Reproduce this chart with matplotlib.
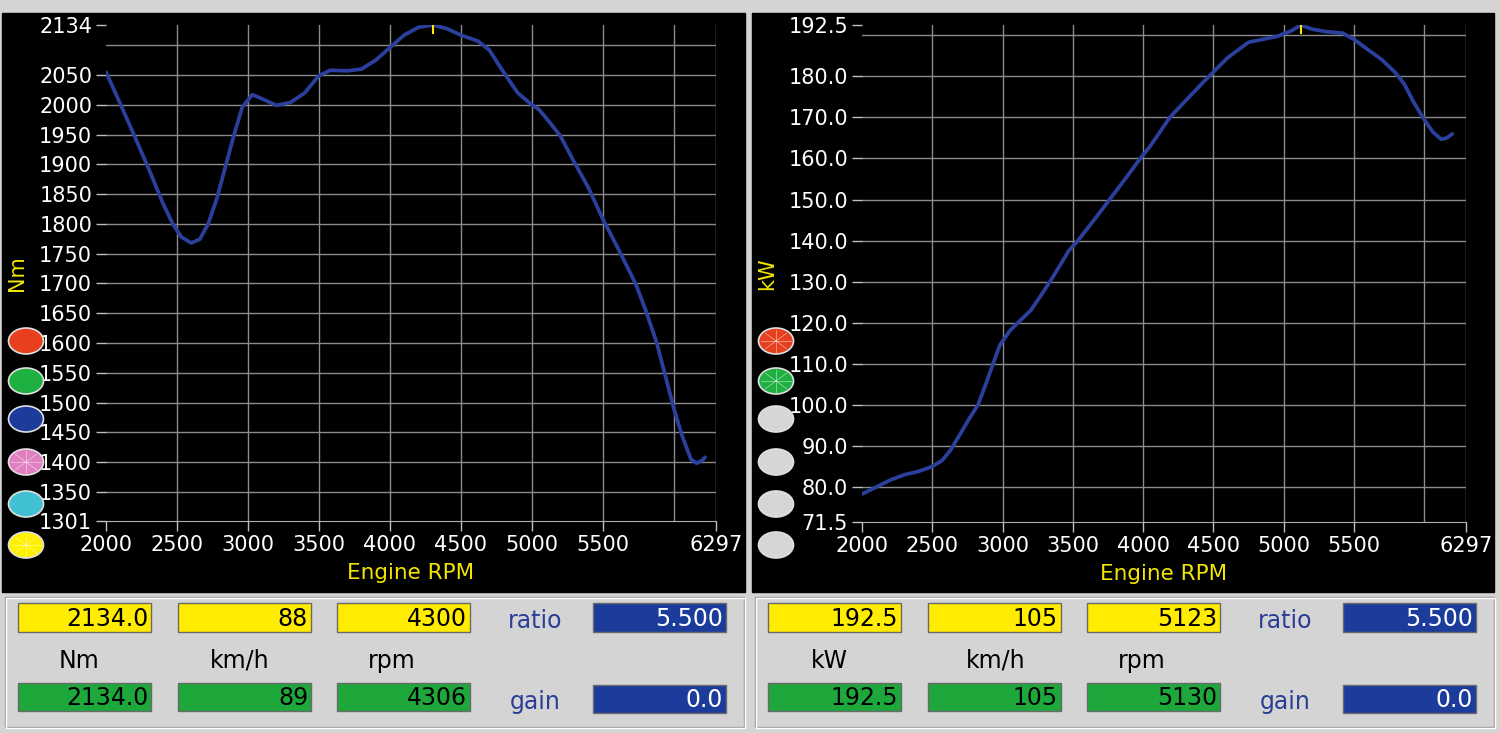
import matplotlib
matplotlib.use('Agg')

import matplotlib.pyplot as plt
from matplotlib.patches import Rectangle, Ellipse
import numpy as np

plt.rcParams['font.family'] = ['DejaVu Sans']

# torque curve (rpm, Nm)
torque_rpm = [2000, 2100, 2200, 2300, 2400, 2470, 2530, 2600, 2660, 2720, 2780,
              2840, 2900, 2960, 3030, 3100, 3200, 3300, 3400, 3500, 3580, 3700,
              3800, 3900, 4000, 4100, 4200, 4300, 4400, 4500, 4620, 4700, 4800,
              4900, 5000, 5050, 5100, 5200, 5300, 5400, 5500, 5600, 5730, 5800,
              5880, 5940, 6000, 6060, 6120, 6160, 6200, 6220]
torque_nm = [2055, 2002, 1948, 1893, 1835, 1800, 1778, 1768, 1774, 1800, 1842,
             1895, 1948, 1996, 2017, 2010, 1999, 2004, 2020, 2049, 2058, 2057,
             2060, 2075, 2096, 2117, 2130, 2134, 2128, 2117, 2107, 2092, 2055,
             2020, 2000, 1992, 1978, 1948, 1903, 1860, 1808, 1762, 1700, 1656,
             1600, 1545, 1490, 1443, 1405, 1398, 1403, 1408]

# power curve (rpm, kW)
power_rpm = [2000, 2100, 2200, 2300, 2400, 2500, 2570, 2630, 2700, 2760, 2825,
             2880, 2932, 2980, 3050, 3124, 3200, 3270, 3337, 3400, 3470, 3536,
             3650, 3750, 3850, 3980, 4050, 4190, 4300, 4440, 4600, 4750, 4850,
             4950, 5050, 5123, 5200, 5300, 5420, 5500, 5580, 5700, 5800, 5860,
             5920, 5990, 6060, 6120, 6160, 6200]
power_kw = [78.3, 80.0, 81.7, 83.0, 83.8, 85.0, 86.5, 89.0, 93.0, 96.5, 100.0,
            105.0, 110.0, 114.5, 118.0, 120.5, 123.0, 126.5, 130.0, 133.5, 137.5,
            140.0, 145.0, 149.5, 154.0, 160.0, 163.0, 170.0, 174.0, 179.0, 184.5,
            188.3, 189.0, 189.7, 191.0, 192.5, 191.5, 190.9, 190.5, 189.0, 187.0,
            184.0, 180.7, 178.0, 174.0, 170.0, 166.5, 164.7, 165.0, 166.0]

x_ticks = [2000, 2500, 3000, 3500, 4000, 4500, 5000, 5500, 6297]
torque_ticks = [1301, 1350, 1400, 1450, 1500, 1550, 1600, 1650, 1700, 1750,
                1800, 1850, 1900, 1950, 2000, 2050, 2134]
power_ticks = [71.5, 80, 90, 100, 110, 120, 130, 140, 150, 160, 170, 180, 192.5]

# readout panel values
torque_hold = ['2134.0', '88', '4300']
torque_cursor = ['2134.0', '89', '4306']
power_hold = ['192.5', '105', '5123']
power_cursor = ['192.5', '105', '5130']
ratio_value = '5.500'
gain_value = '0.0'

BG = '#d4d4d4'
LINE = '#2b3f9c'
GRID = '#8a8a8a'
YEL = '#ffec00'
GRN = '#1ea83c'
BLU = '#1c3c9c'
LABEL_YEL = '#f2e600'

W, H = 1500, 733
fig = plt.figure(figsize=(15, 7.33), dpi=100, facecolor=BG)

# background layer in pixel coordinates
bg = fig.add_axes([0, 0, 1, 1])
bg.set_xlim(0, W)
bg.set_ylim(H, 0)
bg.axis('off')
bg.add_patch(Rectangle((2, 13), 743, 579, color='black'))
bg.add_patch(Rectangle((752, 13), 742, 579, color='black'))


def pix_axes(l, t, r, b):
    return fig.add_axes([l / W, 1 - b / H, (r - l) / W, (b - t) / H])


def setup(ax, rpm, vals, yticks, ylabels, extra_grid, unit, peak_rpm):
    ax.set_facecolor('black')
    ax.set_xlim(x_ticks[0], x_ticks[-1])
    ax.set_ylim(yticks[0], yticks[-1])
    for x in x_ticks[1:] + [6000]:
        ax.axvline(x, color=GRID, lw=1, zorder=1)
    for y in yticks[1:-1] + [extra_grid]:
        ax.axhline(y, color=GRID, lw=1, zorder=1)
    ax.plot(rpm, vals, color=LINE, lw=2.7, zorder=3,
            solid_capstyle='round', solid_joinstyle='round')
    ax.axvline(peak_rpm, ymin=0.984, ymax=1.0, color=YEL, lw=1.5, zorder=4)
    for s in ['top', 'right', 'left']:
        ax.spines[s].set_visible(False)
    ax.spines['bottom'].set_color('#b0b0b0')
    ax.set_xticks(x_ticks)
    ax.set_xticklabels([str(x) for x in x_ticks])
    ax.set_yticks(yticks)
    ax.set_yticklabels(ylabels)
    ax.tick_params(colors='#c0c0c0', labelcolor='white', length=7, width=1,
                   labelsize=15, pad=3)
    ax.set_xlabel('Engine RPM', color=LABEL_YEL, fontsize=15.5)
    ax.xaxis.set_label_coords(0.5, -0.085)
    ax.set_ylabel(unit, color=LABEL_YEL, fontsize=15)


ax1 = pix_axes(106, 25, 716, 521)
setup(ax1, torque_rpm, torque_nm, torque_ticks, [str(t) for t in torque_ticks],
      2100, 'Nm', 4300)
ax1.yaxis.set_label_coords(-0.13, 0.5)

ax2 = pix_axes(862, 25, 1466, 522)
setup(ax2, power_rpm, power_kw, power_ticks, ['%.1f' % t for t in power_ticks],
      190, 'kW', 5123)
ax2.yaxis.set_label_coords(-0.141, 0.5)

# overlay: colour buttons and readout panel
ov = fig.add_axes([0, 0, 1, 1])
ov.set_xlim(0, W)
ov.set_ylim(H, 0)
ov.axis('off')
ov.patch.set_alpha(0)

button_y = [341, 381, 419, 462, 504, 545]
left_colors = ['#e8401f', '#1eb040', '#1c3c9c', '#e080c0', '#40c0d0', '#fff000']
left_star = [False, False, False, True, False, True]
right_colors = ['#e8401f', '#1eb040', '#d6d6d6', '#d6d6d6', '#d6d6d6', '#d6d6d6']
right_star = [True, True, False, False, False, False]


def button(x, y, c, star):
    ov.add_patch(Ellipse((x, y), 35, 26, fc=c, ec='#e0e0e0', lw=1.2))
    if star:
        for a in np.deg2rad([0, 45, 90, 135]):
            dx, dy = 15 * np.cos(a), 11 * np.sin(a)
            ov.plot([x - dx, x + dx], [y - dy, y + dy], color='white',
                    lw=0.5, alpha=0.6)


for y, c, s in zip(button_y, left_colors, left_star):
    button(26, y, c, s)
for y, c, s in zip(button_y, right_colors, right_star):
    button(776, y, c, s)


def box(x, y, w, h, fc, text, tc):
    ov.add_patch(Rectangle((x, y), w, h, fc=fc, ec='#6a6a6a', lw=1))
    ov.text(x + w - 3, y + h / 2 + 1, text, ha='right', va='center',
            fontsize=17, color=tc)


def readout(x0, hold, cursor, unit, km_x):
    ov.add_patch(Rectangle((x0 + 5, 597), 739, 130, fill=False, ec='#9a9a9a', lw=1))
    ov.add_patch(Rectangle((x0 + 6, 598), 739, 130, fill=False, ec='white', lw=1))
    for bx, hv, cv in zip([18, 178, 337], hold, cursor):
        box(x0 + bx, 603, 133, 29, YEL, hv, 'black')
        box(x0 + bx, 683, 133, 28, GRN, cv, 'black')
    box(x0 + 593, 603, 133, 29, BLU, ratio_value, 'white')
    box(x0 + 593, 685, 133, 28, BLU, gain_value, 'white')
    for lx, t in zip([79, km_x, 392], [unit, 'km/h', 'rpm']):
        ov.text(x0 + lx, 661, t, ha='center', va='center', fontsize=17,
                color='black')
    ov.text(x0 + 535, 621, 'ratio', ha='center', va='center', fontsize=17,
            color='#2a3e96')
    ov.text(x0 + 535, 702, 'gain', ha='center', va='center', fontsize=17,
            color='#2a3e96')


readout(0, torque_hold, torque_cursor, 'Nm', 240)
readout(750, power_hold, power_cursor, 'kW', 246)

fig.savefig('out.png', dpi=100, facecolor=BG)
